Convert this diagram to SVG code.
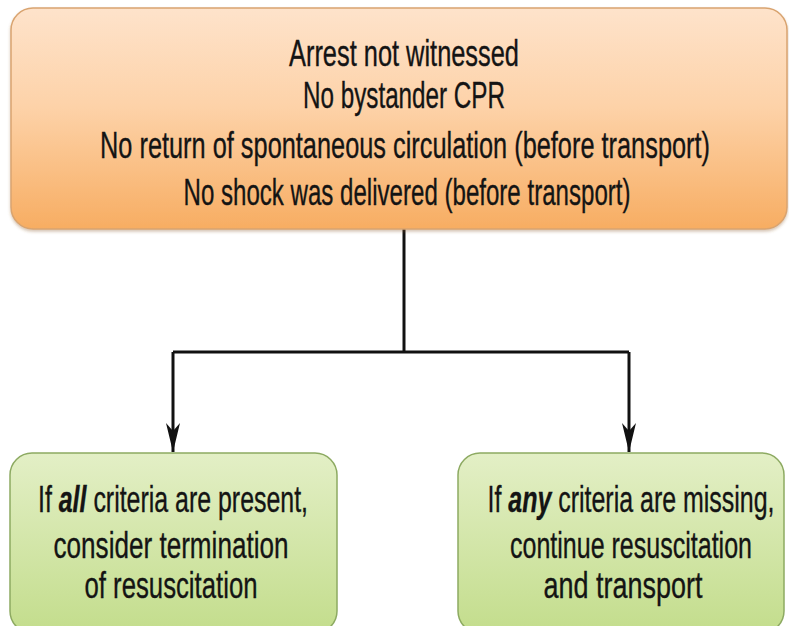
<svg xmlns="http://www.w3.org/2000/svg" width="789" height="626" viewBox="0 0 789 626">
  <defs>
    <linearGradient id="gOrange" x1="0" y1="0" x2="0" y2="1">
      <stop offset="0" stop-color="#fee3cb"/>
      <stop offset="0.45" stop-color="#fdd2a8"/>
      <stop offset="1" stop-color="#f7ad62"/>
    </linearGradient>
    <linearGradient id="gGreen" x1="0" y1="0" x2="0" y2="1">
      <stop offset="0" stop-color="#e3efc6"/>
      <stop offset="1" stop-color="#c3dd8c"/>
    </linearGradient>
    <filter id="shadow" x="-5%" y="-5%" width="110%" height="115%">
      <feDropShadow dx="0" dy="2" stdDeviation="1.5" flood-color="#8a5a2a" flood-opacity="0.35"/>
    </filter>
    <!-- notched arrowhead pointing along +x, tip at the path end -->
    <marker id="arrow" markerUnits="userSpaceOnUse" markerWidth="32" markerHeight="18" viewBox="-31 -9 32 18" refX="0" refY="0" orient="auto">
      <path d="M0,0 L-29,-7 L-21,0 L-29,7 Z" fill="#111"/>
    </marker>
  </defs>
  <style>
    .txt { font-family: "Liberation Sans", Arial, sans-serif; fill: #141414; stroke: #141414; stroke-width: 0.35; text-anchor: middle; }
    .top { font-size: 37px; }
    .bot { font-size: 36px; }
    .em { font-weight: bold; font-style: italic; }
    .edge { fill: none; stroke: #111; stroke-width: 3; }
  </style>
  <rect width="789" height="626" fill="#ffffff"/>

  <g id="connectors">
    <path class="edge" d="M404,229 V352"/>
    <path class="edge" d="M173,352 H629"/>
    <path class="edge" d="M173,352 V452" marker-end="url(#arrow)"/>
    <path class="edge" d="M629,352 V452" marker-end="url(#arrow)"/>
  </g>

  <g id="criteria">
    <rect x="11" y="8" width="776" height="221" rx="22" ry="22" fill="url(#gOrange)" stroke="#d9a470" stroke-width="1.5" filter="url(#shadow)"/>
    <text class="txt top" x="404" y="66" textLength="230" lengthAdjust="spacingAndGlyphs">Arrest not witnessed</text>
    <text class="txt top" x="404" y="108" textLength="202" lengthAdjust="spacingAndGlyphs">No bystander CPR</text>
    <text class="txt top" x="405" y="158" textLength="610" lengthAdjust="spacingAndGlyphs">No return of spontaneous circulation (before transport)</text>
    <text class="txt top" x="407" y="205" textLength="447" lengthAdjust="spacingAndGlyphs">No shock was delivered (before transport)</text>
  </g>

  <g id="terminate">
    <rect x="10" y="453" width="327" height="180" rx="22" ry="22" fill="url(#gGreen)" stroke="#8daa62" stroke-width="1.5"/>
    <text class="txt bot" x="173" y="512" textLength="270" lengthAdjust="spacingAndGlyphs">If <tspan class="em">all</tspan> criteria are present,</text>
    <text class="txt bot" x="171" y="558" textLength="235" lengthAdjust="spacingAndGlyphs">consider termination</text>
    <text class="txt bot" x="171" y="598" textLength="173" lengthAdjust="spacingAndGlyphs">of resuscitation</text>
  </g>

  <g id="continue">
    <rect x="458" y="453" width="326" height="180" rx="22" ry="22" fill="url(#gGreen)" stroke="#8daa62" stroke-width="1.5"/>
    <text class="txt bot" x="631" y="512" textLength="287" lengthAdjust="spacingAndGlyphs">If <tspan class="em">any</tspan> criteria are missing,</text>
    <text class="txt bot" x="631" y="558" textLength="242" lengthAdjust="spacingAndGlyphs">continue resuscitation</text>
    <text class="txt bot" x="623" y="598" textLength="159" lengthAdjust="spacingAndGlyphs">and transport</text>
  </g>
</svg>
